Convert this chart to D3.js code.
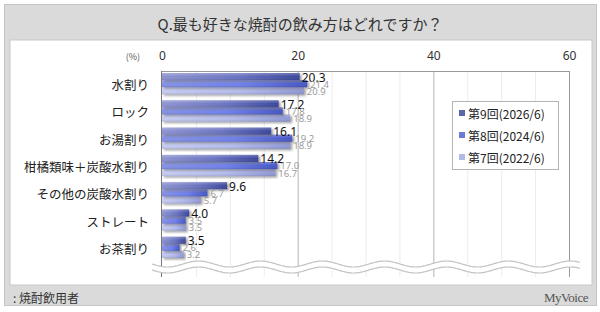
<!DOCTYPE html>
<html>
<head>
<meta charset="utf-8">
<script src="https://cdn.jsdelivr.net/npm/d3@7"></script>
<style>
  body { margin: 0; background: #fff; }
  svg { display: block; font-family: "Noto Sans CJK JP", "Noto Sans", sans-serif; }
</style>
</head>
<body>
<div id="main"></div>
<script>
var categories = ["水割り", "ロック", "お湯割り", "柑橘類味＋炭酸水割り", "その他の炭酸水割り", "ストレート", "お茶割り"];
var seriesNames = ["第9回(2026/6)", "第8回(2024/6)", "第7回(2022/6)"];
var wave9 = [20.3, 17.2, 16.1, 14.2, 9.6, 4.0, 3.5];
var wave8 = [21.4, 17.8, 19.2, 17.0, 6.7, 3.5, 2.6];
var wave7 = [20.9, 18.9, 18.9, 16.7, 5.7, 3.5, 3.2];
var tickValues = [0, 20, 40, 60];

var seriesValues = [wave9, wave8, wave7];
var legendColors = ["#5b67a8", "#6b7cd6", "#b2bae8"];
var gradStops = [
  ["#8e94d2", "#6a74c0", "#3b479c"],
  ["#8592e6", "#6f80ec", "#4656c4"],
  ["#c6ccf2", "#b4bcec", "#9098d6"]
];

var width = 600, height = 312;
var svg = d3.select('#main').append('svg')
            .attr('width', width)
            .attr('height', height);

var defs = svg.append('defs');
gradStops.forEach(function(s, i) {
  var g = defs.append('linearGradient')
              .attr('id', 'grad' + i)
              .attr('x1', '0%').attr('x2', '100%')
              .attr('y1', '0%').attr('y2', '0%');
  g.append('stop').attr('offset', '0%').attr('stop-color', s[0]);
  g.append('stop').attr('offset', '55%').attr('stop-color', s[1]);
  g.append('stop').attr('offset', '100%').attr('stop-color', s[2]);
});
var shine = defs.append('linearGradient')
                .attr('id', 'shine')
                .attr('x1', '0%').attr('x2', '0%')
                .attr('y1', '0%').attr('y2', '100%');
shine.append('stop').attr('offset', '0%').attr('stop-color', '#fff').attr('stop-opacity', 0.25);
shine.append('stop').attr('offset', '50%').attr('stop-color', '#fff').attr('stop-opacity', 0);
shine.append('stop').attr('offset', '100%').attr('stop-color', '#000').attr('stop-opacity', 0.12);

var shadow = defs.append('filter')
                 .attr('id', 'shadow')
                 .attr('x', '-5%').attr('y', '-20%')
                 .attr('width', '115%').attr('height', '160%');
shadow.append('feDropShadow')
      .attr('dx', 2).attr('dy', 1.5)
      .attr('stdDeviation', 1)
      .attr('flood-color', '#555')
      .attr('flood-opacity', 0.55);

// frame
svg.append('rect')
   .attr('x', 4.5).attr('y', 4.5)
   .attr('width', 592).attr('height', 301)
   .attr('fill', '#dadada')
   .attr('stroke', '#c4c4c4');
svg.append('rect')
   .attr('x', 10).attr('y', 40)
   .attr('width', 582).attr('height', 245)
   .attr('fill', '#fff')
   .attr('stroke', '#c8c8c8');

svg.append('text')
   .attr('x', 300).attr('y', 23)
   .attr('text-anchor', 'middle')
   .attr('dominant-baseline', 'central')
   .attr('font-size', 15)
   .attr('fill', '#333')
   .text("Q.最も好きな焼酎の飲み方はどれですか？");

var x = d3.scaleLinear().domain([0, 60]).range([162, 569]);
var y = d3.scaleBand().domain(categories)
          .range([70, 261]).paddingInner(0.22).paddingOuter(0.11);
var ySub = d3.scaleBand().domain(d3.range(3)).range([0, y.bandwidth()]);

var plotTop = 71, plotBottom = 277;

// gridlines
svg.append('g')
   .selectAll('line')
   .data(d3.range(5, 60, 5).filter(function(v) { return v % 20 != 0; }))
   .join('line')
   .attr('x1', function(d) { return x(d) + 0.5; })
   .attr('x2', function(d) { return x(d) + 0.5; })
   .attr('y1', plotTop).attr('y2', plotBottom)
   .attr('stroke', '#ececec');
svg.append('g')
   .selectAll('line')
   .data([20, 40])
   .join('line')
   .attr('x1', function(d) { return x(d) + 0.5; })
   .attr('x2', function(d) { return x(d) + 0.5; })
   .attr('y1', plotTop).attr('y2', plotBottom)
   .attr('stroke', '#b4b4b4');
svg.append('line')
   .attr('x1', x(0) - 0.5).attr('x2', x(60) + 0.5)
   .attr('y1', plotTop + 0.5).attr('y2', plotTop + 0.5)
   .attr('stroke', '#999');
svg.append('line')
   .attr('x1', x(60) + 0.5).attr('x2', x(60) + 0.5)
   .attr('y1', plotTop).attr('y2', plotBottom)
   .attr('stroke', '#999');

// top axis
var axis = d3.axisTop(x).tickValues(tickValues).tickSize(0).tickPadding(0);
var axisG = svg.append('g')
               .attr('transform', 'translate(0,' + 56 + ')')
               .call(axis);
axisG.select('.domain').remove();
axisG.selectAll('text')
     .attr('font-size', 12)
     .attr('fill', '#333')
     .attr('dy', '0.35em')
     .attr('font-family', '"Noto Sans", sans-serif');
svg.append('text')
   .attr('x', 140).attr('y', 56)
   .attr('text-anchor', 'end')
   .attr('dominant-baseline', 'central')
   .attr('font-size', 9)
   .attr('fill', '#555')
   .text("(%)");

// bars
var groups = svg.append('g')
                .selectAll('g')
                .data(categories)
                .join('g')
                .attr('transform', function(d) { return 'translate(0,' + y(d) + ')'; });

groups.each(function(cat, ci) {
  var g = d3.select(this);
  for (var s = 2; s >= 0; s--) {
    var v = seriesValues[s][ci];
    g.append('rect')
     .attr('x', x(0)).attr('y', ySub(s))
     .attr('width', x(v) - x(0))
     .attr('height', ySub.bandwidth())
     .attr('fill', 'url(#grad' + s + ')')
     .attr('filter', 'url(#shadow)');
    g.append('rect')
     .attr('x', x(0)).attr('y', ySub(s))
     .attr('width', x(v) - x(0))
     .attr('height', ySub.bandwidth())
     .attr('fill', 'url(#shine)');
  }
  for (var s = 0; s < 3; s++) {
    var v = seriesValues[s][ci];
    g.append('text')
     .attr('x', x(v) + (s == 0 ? 2 : 3))
     .attr('y', ySub(s) + ySub.bandwidth() / 2 + 0.5)
     .attr('dominant-baseline', 'central')
     .attr('font-family', '"Noto Sans", sans-serif')
     .attr('font-size', s == 0 ? 12 : 9.5)
     .attr('fill', s == 0 ? '#111' : '#9a9a9a')
     .text(v.toFixed(1));
  }
});

// axis line at 0
svg.append('line')
   .attr('x1', x(0) - 0.5).attr('x2', x(0) - 0.5)
   .attr('y1', plotTop).attr('y2', plotBottom)
   .attr('stroke', '#777');

// category labels
svg.append('g')
   .selectAll('text')
   .data(categories)
   .join('text')
   .attr('x', 149)
   .attr('y', function(d) { return y(d) + y.bandwidth() / 2 + 1; })
   .attr('text-anchor', 'end')
   .attr('dominant-baseline', 'central')
   .attr('font-size', 12.5)
   .attr('fill', '#222')
   .text(function(d) { return d; });

// wave break
var waveX = d3.range(152, 581, 1);
function wavePoints(yc) {
  return waveX.map(function(px) { return [px, yc + 3 * Math.sin((px - 152) / 62 * 2 * Math.PI)]; });
}
var upper = wavePoints(264), lower = wavePoints(270);
svg.append('path')
   .attr('d', d3.line()(upper.concat(lower.slice().reverse())) + 'Z')
   .attr('fill', '#fff');
svg.append('path')
   .attr('d', d3.line()(upper))
   .attr('fill', 'none').attr('stroke', '#c4c4c4').attr('stroke-width', 1.2);
svg.append('path')
   .attr('d', d3.line()(lower))
   .attr('fill', 'none').attr('stroke', '#c4c4c4').attr('stroke-width', 1.2);

// legend
var legend = svg.append('g').attr('transform', 'translate(452,101)');
legend.append('rect')
      .attr('x', 0.5).attr('y', 0.5)
      .attr('width', 106).attr('height', 68)
      .attr('fill', '#fff')
      .attr('stroke', '#b4b4b4');
seriesNames.forEach(function(name, i) {
  legend.append('rect')
        .attr('x', 7).attr('y', 9 + i * 22)
        .attr('width', 6).attr('height', 6)
        .attr('fill', legendColors[i]);
  legend.append('text')
        .attr('x', 16).attr('y', 12.5 + i * 22)
        .attr('dominant-baseline', 'central')
        .attr('font-size', 12)
        .attr('fill', '#222')
        .text(name);
});

// footer
svg.append('text')
   .attr('x', 13).attr('y', 297)
   .attr('dominant-baseline', 'central')
   .attr('font-size', 12)
   .attr('fill', '#333')
   .text(": 焼酎飲用者");
svg.append('text')
   .attr('x', 588).attr('y', 297)
   .attr('text-anchor', 'end')
   .attr('dominant-baseline', 'central')
   .attr('font-family', '"Liberation Serif", serif')
   .attr('font-size', 13)
   .attr('letter-spacing', -0.5)
   .attr('fill', '#555')
   .text("MyVoice");
</script>
</body>
</html>
